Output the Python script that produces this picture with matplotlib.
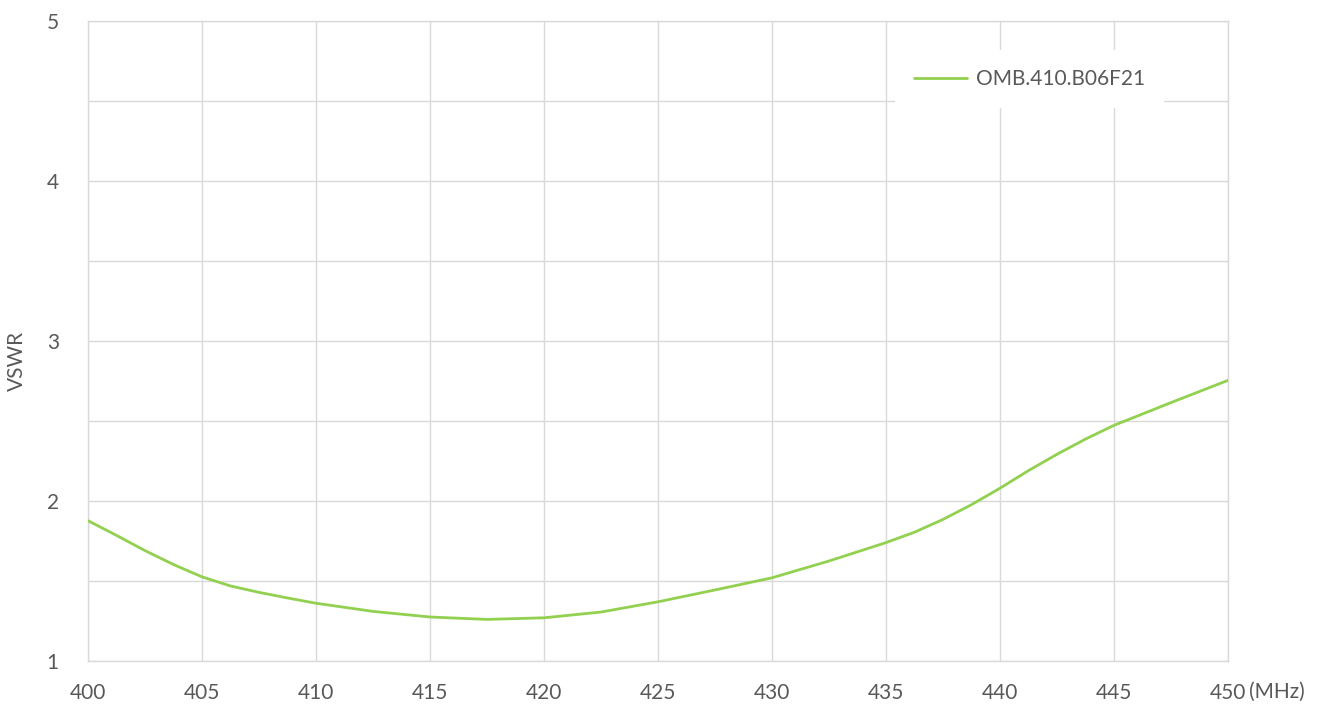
import matplotlib.pyplot as plt
from matplotlib.ticker import MultipleLocator

# VSWR readings taken off the reference curve
freq_mhz = [400, 401.25, 402.5, 403.75, 405, 406.25, 407.5, 408.75, 410, 412.5, 415,
            417.5, 420, 422.5, 425, 427.5, 430, 432.5, 435, 436.25, 437.5, 438.75,
            440, 441.25, 442.5, 443.75, 445, 447.5, 450]
vswr = [1.877, 1.785, 1.690, 1.603, 1.526, 1.469, 1.429, 1.394, 1.361, 1.310, 1.275,
        1.260, 1.270, 1.306, 1.370, 1.444, 1.520, 1.625, 1.740, 1.805, 1.885, 1.977,
        2.080, 2.190, 2.292, 2.387, 2.473, 2.615, 2.754]
series_name = 'OMB.410.B06F21'
x_ticks = [400, 405, 410, 415, 420, 425, 430, 435, 440, 445, 450]
y_ticks = [1, 2, 3, 4, 5]

plt.rcParams['font.family'] = ['Lato', 'DejaVu Sans']
text_color = '#595959'
grid_color = '#D9D9D9'

W, H = 1323, 706
fig = plt.figure(figsize=(W / 100, H / 100), dpi=100)
ax = fig.add_axes([88 / W, (H - 661) / H, 1140 / W, 640 / H])

ax.plot(freq_mhz, vswr, color='#92D050', linewidth=2.0, label=series_name,
        solid_capstyle='round', solid_joinstyle='round', zorder=3)

ax.set_xlim(400, 450)
ax.set_ylim(1, 5)
ax.set_xticks(x_ticks)
ax.set_yticks(y_ticks)
ax.yaxis.set_minor_locator(MultipleLocator(0.5))
ax.grid(True, which='major', color=grid_color, linewidth=1)
ax.grid(True, which='minor', axis='y', color=grid_color, linewidth=1)
ax.set_axisbelow(True)
ax.tick_params(which='both', length=0, labelsize=15, colors=text_color)
ax.tick_params(axis='y', pad=21)
ax.tick_params(axis='x', pad=16)
for s in ax.spines.values():
    s.set_color(grid_color)
    s.set_linewidth(1)

fig.text(1249 / W, 1 - 692 / H, '(MHz)', fontsize=15, color=text_color,
         ha='left', va='center')
fig.text(17 / W, 1 - 361 / H, 'VSWR', fontsize=15, color=text_color,
         rotation=90, ha='center', va='center')

leg = ax.legend(loc='center', bbox_to_anchor=((1029.5 - 88) / 1140, (661 - 79) / 640),
                frameon=True, fancybox=False, fontsize=15, handlelength=2.55,
                handletextpad=0.45, borderpad=0.9, borderaxespad=0)
leg.get_frame().set_facecolor('white')
leg.get_frame().set_edgecolor('none')
leg.get_frame().set_alpha(1)
for t in leg.get_texts():
    t.set_color(text_color)

fig.savefig('out.png', dpi=100)
plt.close(fig)
